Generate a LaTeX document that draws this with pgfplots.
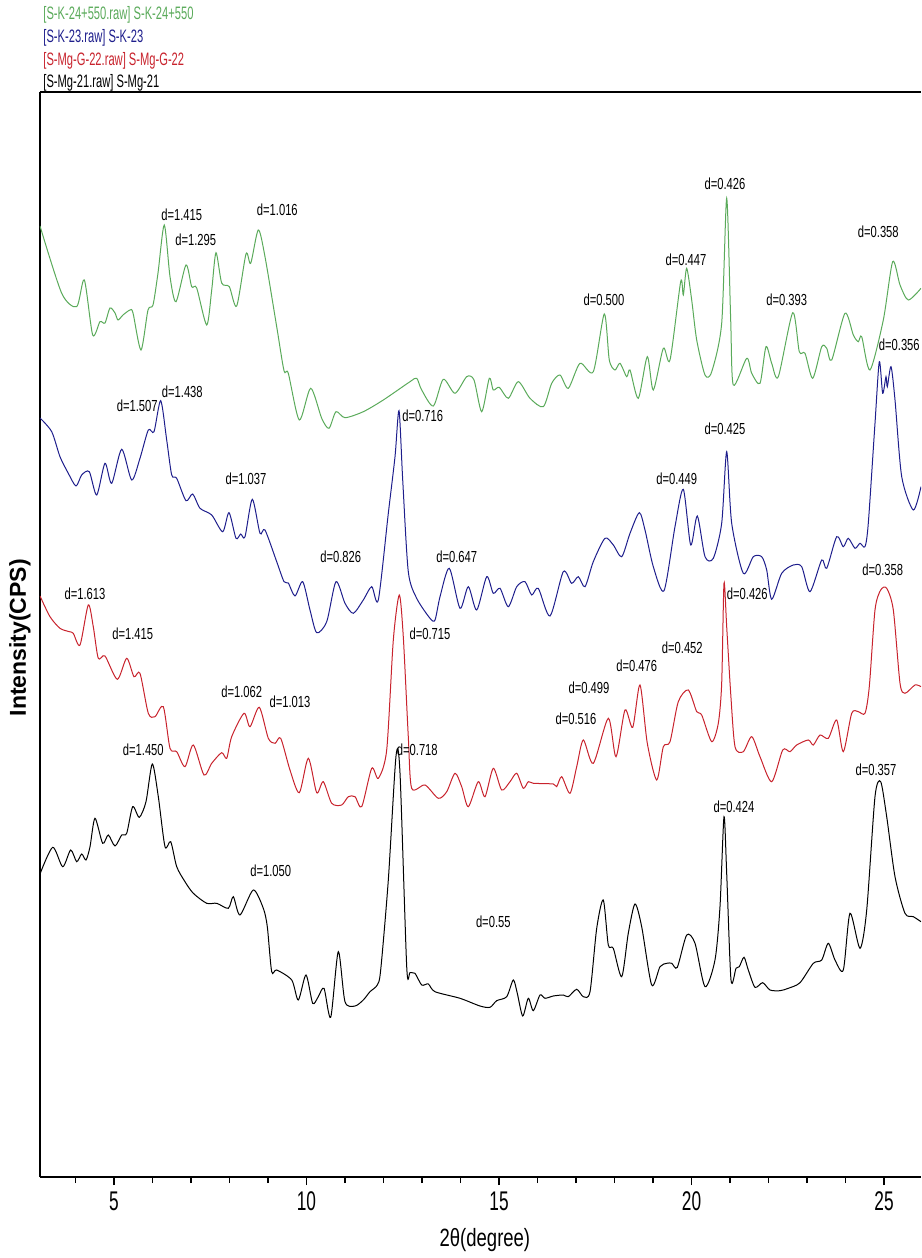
\documentclass[border=0pt]{standalone}
\usepackage{fontspec}
\setmainfont{Liberation Sans}
\newfontfamily\dfont{Liberation Sans}[FakeStretch=0.7]
\newfontfamily\lfont{Liberation Sans}[FakeStretch=0.62]
\newfontfamily\tfont{Liberation Sans}[FakeStretch=0.74]
\newfontfamily\kfont{Liberation Sans}[FakeStretch=0.64]
\usepackage{pgfplots}
\pgfplotsset{compat=1.18}
\definecolor{cgreen}{RGB}{90,170,90}
\definecolor{cblue}{RGB}{30,30,140}
\definecolor{cred}{RGB}{200,35,45}
\tikzset{dl/.style={font=\dfont\fontsize{8}{9}\selectfont, inner sep=0pt, anchor=center, text=black}}
\begin{document}
\begin{tikzpicture}
\begin{axis}[
  scale only axis, width=440.5pt, height=542.5pt,
  xmin=3.078, xmax=25.961, ymin=0, ymax=1085,
  axis x line=box, axis y line=left,
  axis line style={-, line width=0.75pt},
  xtick pos=bottom,
  xtick={5,10,15,20,25}, xticklabels={5,10,15,20,25},
  minor xtick={4,6,7,8,9,11,12,13,14,16,17,18,19,21,22,23,24},
  ytick=\empty,
  tick align=outside, major tick length=4pt, minor tick length=3pt,
  every tick/.style={black, line width=0.7pt},
  xticklabel style={font=\kfont\fontsize{13.5}{15}\selectfont},
  xlabel={2θ(degree)},
  xlabel style={font=\tfont\fontsize{12.5}{14}\selectfont, at={(rel axis cs:0.505,0)}, anchor=center, yshift=-31.5pt},
  ylabel={Intensity(CPS)},
  ylabel style={font=\bfseries\fontsize{11.5}{13}\selectfont, at={(rel axis cs:0,0.497)}, anchor=center, yshift=10pt},
  every axis plot/.append style={line width=0.5pt, smooth, tension=0.45},
]
% S-K-24+550 (green)
\addplot[cgreen] coordinates {
(3.078,951) (3.642,883.7) (4.031,870.3) (4.229,897) (4.447,842) (4.636,855.3) (4.766,854) (4.896,869) (5.026,864) (5.104,857) (5.234,862) (5.416,867) (5.494,864) (5.701,827) (5.883,867) (6.013,872) (6.143,904) (6.306,952) (6.455,900.3) (6.610,875.3) (6.870,912) (7.018,890.3) (7.148,889) (7.408,852) (7.538,887) (7.649,924.3) (7.797,894) (7.995,890.3) (8.187,871) (8.429,923) (8.551,913.7) (8.748,947) (8.922,920.3) (9.226,850.3) (9.416,806.3) (9.527,803.7) (9.813,757) (10.109,788.7) (10.395,758.7) (10.584,748.7) (10.766,765.3) (11.0,759.3) (11.475,765.3) (11.995,777) (12.688,795.3) (12.862,798.7) (12.992,787) (13.294,771) (13.553,797.7) (13.857,783.7) (14.161,800.3) (14.351,797) (14.551,765.3) (14.748,798.7) (14.852,787) (15.008,789.7) (15.242,778.7) (15.501,795.3) (15.805,778.7) (16.151,770.3) (16.369,793.7) (16.584,802) (16.8,788.7) (17.104,813.7) (17.449,805.3) (17.735,863) (17.865,817) (18.013,807) (18.143,813.7) (18.317,800.3) (18.403,807) (18.618,778.7) (18.852,820.3) (19.008,787) (19.268,828.7) (19.442,817) (19.719,895.3) (19.787,882) (19.875,908.7) (20.005,877) (20.135,837) (20.351,802) (20.525,805.3) (20.784,853.7) (20.914,978.7) (21.018,857) (21.086,792) (21.434,818.7) (21.564,803.7) (21.779,793.7) (21.935,830.3) (22.083,813.7) (22.255,800.3) (22.629,864.3) (22.8,825.3) (22.948,823.7) (23.148,798.7) (23.382,830.3) (23.512,828.7) (23.642,817) (23.987,863.7) (24.203,842) (24.332,835.3) (24.421,840.3) (24.636,807) (24.982,857) (25.226,915.3) (25.416,892) (25.631,877) (25.961,888.7)
};
% S-K-23 (blue)
\addplot[cblue] coordinates {
(3.078,759) (3.382,745.3) (3.597,720.3) (3.813,703.7) (4.013,691) (4.161,702) (4.358,705.3) (4.551,682) (4.766,713.7) (4.940,693.7) (5.2,727.7) (5.460,697) (5.675,718.7) (5.891,747) (6.039,745.3) (6.213,776.3) (6.369,737) (6.499,702) (6.629,698.7) (6.870,676.3) (7.044,683) (7.234,668.7) (7.538,662) (7.823,645.3) (7.987,664.3) (8.169,638.7) (8.291,643) (8.403,640.3) (8.592,677.7) (8.792,643.7) (8.922,647) (9.226,615.3) (9.416,595.3) (9.527,594) (9.701,581) (9.901,595.3) (10.091,567) (10.265,544.3) (10.525,555.3) (10.766,595.3) (11.0,573.7) (11.216,563.7) (11.475,577) (11.694,590.3) (11.865,577) (12.125,663.7) (12.299,720.3) (12.403,766.3) (12.499,697) (12.644,605.3) (12.862,578.7) (13.208,558.7) (13.338,557) (13.468,580.3) (13.709,608.7) (13.987,568.7) (14.203,590.3) (14.421,567) (14.681,600.3) (14.852,583.7) (15.026,588.7) (15.242,570.3) (15.460,590.3) (15.675,595.3) (15.849,582) (16.021,588.7) (16.325,561) (16.670,605.3) (16.888,593.7) (17.060,600.3) (17.234,590.3) (17.449,615.3) (17.753,638.7) (17.969,632) (18.187,620.3) (18.403,643.7) (18.644,664.3) (18.792,647) (19.008,610.3) (19.286,586.3) (19.571,650.3) (19.787,687.7) (19.979,632) (20.151,661) (20.351,620.3) (20.566,618.7) (20.784,653.7) (20.914,725.3) (21.044,653.7) (21.345,603.7) (21.605,620.3) (21.823,620.3) (21.953,607) (22.083,577.7) (22.343,603.7) (22.644,612) (22.862,610.3) (23.078,585.3) (23.382,617) (23.512,608.7) (23.771,640.3) (23.943,630.3) (24.073,638.7) (24.247,628.7) (24.377,633.7) (24.506,630.3) (24.592,653.7) (24.766,753.7) (24.878,815.3) (24.966,783.7) (25.052,800.3) (25.086,790.3) (25.182,810.3) (25.286,777) (25.460,700.3) (25.761,667) (25.961,690.3)
};
% S-Mg-G-22 (red)
\addplot[cred] coordinates {
(3.078,581) (3.338,560.3) (3.597,548.7) (3.839,545.3) (3.943,543.7) (4.117,532) (4.332,572) (4.462,550.3) (4.592,518.7) (4.766,521) (5.086,497.7) (5.330,518.7) (5.519,500.3) (5.675,503.7) (5.891,463.7) (6.065,460.3) (6.281,470.3) (6.455,428.7) (6.629,425.3) (6.844,410.3) (7.060,432) (7.338,402) (7.538,413.7) (7.797,424.3) (7.927,418.7) (8.057,440.3) (8.377,463.7) (8.532,450.3) (8.774,469.7) (9.008,438.7) (9.182,433.7) (9.330,438.7) (9.571,407) (9.813,384.3) (10.047,418.7) (10.265,384.3) (10.436,395.3) (10.655,373.7) (10.914,372) (11.086,380.3) (11.260,380.3) (11.434,370.3) (11.694,408.7) (11.865,398.7) (12.083,427) (12.255,537) (12.410,582) (12.514,540.3) (12.644,440.3) (12.732,388.7) (13.078,392) (13.423,378.7) (13.642,385.3) (13.857,403.7) (14.031,390.3) (14.203,370.3) (14.462,395.3) (14.636,380.3) (14.852,408.7) (15.070,387) (15.286,395.3) (15.460,403.7) (15.631,388.7) (15.761,395.3) (15.891,393.7) (16.410,393) (16.499,390.3) (16.629,400.3) (16.844,383.7) (17.018,410.3) (17.190,437) (17.449,413.7) (17.839,458.7) (18.039,420.3) (18.273,467) (18.473,449.7) (18.662,492) (18.852,433.7) (19.096,397) (19.268,430.3) (19.442,435.3) (19.657,475.3) (19.917,487) (20.135,465.3) (20.265,462) (20.525,435.3) (20.696,453.7) (20.784,493.7) (20.844,593.7) (20.914,550.3) (21.018,483.7) (21.130,430.3) (21.345,425.3) (21.564,440.3) (21.779,420.3) (22.083,395.3) (22.369,427) (22.558,425.3) (22.732,432) (23.034,437) (23.164,432) (23.338,442) (23.553,438.7) (23.771,457) (23.943,425.3) (24.161,463.7) (24.332,465.3) (24.506,463.7) (24.618,490.3) (24.766,567) (24.914,587) (25.070,588.7) (25.242,567) (25.416,493.7) (25.545,483.7) (25.805,492) (25.961,490.3)
};
% S-Mg-21 (black)
\addplot[black] coordinates {
(3.078,303) (3.408,329.7) (3.668,310.3) (3.875,327) (4.031,315.3) (4.161,323) (4.273,317) (4.377,330.3) (4.506,358.7) (4.706,333.7) (4.852,342) (5.026,331) (5.2,342) (5.330,343.7) (5.486,370.3) (5.657,359.7) (5.831,375.3) (5.995,413) (6.151,380.3) (6.325,330.3) (6.473,335.3) (6.629,310.3) (6.844,295.3) (7.060,283.7) (7.408,273.7) (7.668,273.7) (7.969,268.7) (8.099,280.3) (8.273,262) (8.618,287) (8.878,268.7) (8.982,250.3) (9.096,205.3) (9.226,207) (9.616,197) (9.787,177) (9.987,202) (10.161,173.7) (10.306,180.3) (10.455,188.7) (10.629,159.7) (10.826,225.3) (11.0,175.3) (11.260,171) (11.475,177) (11.649,185.3) (11.839,192) (11.927,207) (12.125,297) (12.325,421) (12.429,403.7) (12.603,210.3) (12.688,204.3) (12.818,203.7) (12.992,192) (13.164,193) (13.338,185.3) (13.987,178.7) (14.506,171) (14.766,169.7) (14.940,176.3) (15.2,180.3) (15.371,197) (15.475,183.7) (15.616,161) (15.761,178.7) (15.891,166.3) (16.065,182) (16.195,178.7) (16.410,181) (16.670,182) (16.8,180.3) (17.018,187.7) (17.190,180.3) (17.364,185.3) (17.538,248.7) (17.709,277) (17.839,232) (17.969,228.7) (18.187,200.3) (18.358,243.7) (18.532,273) (18.706,250.3) (18.966,192) (19.182,210.3) (19.356,213.7) (19.486,213.7) (19.631,209.7) (19.875,242) (20.091,233.7) (20.351,190.3) (20.610,217) (20.740,270.3) (20.844,360.3) (20.914,303.7) (21.026,197) (21.156,208.7) (21.242,210.3) (21.364,219.7) (21.475,207) (21.649,189.7) (21.849,194.3) (22.039,187) (22.299,186.3) (22.514,188.7) (22.818,194.3) (23.164,213.7) (23.382,217) (23.553,233.7) (23.727,217) (23.943,207) (24.117,263.7) (24.377,228.7) (24.551,267) (24.766,380.3) (24.914,395.3) (25.070,360.3) (25.286,300.3) (25.545,263.7) (25.761,260.3) (25.961,255.3)
};
% peak labels
\node[dl] at (axis cs:6.758,962) {d=1.415};
\node[dl] at (axis cs:7.123,937) {d=1.295};
\node[dl] at (axis cs:9.242,967.7) {d=1.016};
\node[dl] at (axis cs:17.727,877) {d=0.500};
\node[dl] at (axis cs:19.857,917.7) {d=0.447};
\node[dl] at (axis cs:20.870,993) {d=0.426};
\node[dl] at (axis cs:22.473,877) {d=0.393};
\node[dl] at (axis cs:24.852,945.3) {d=0.358};
\node[dl] at (axis cs:5.605,771) {d=1.507};
\node[dl] at (axis cs:6.774,785.3) {d=1.438};
\node[dl] at (axis cs:8.429,698) {d=1.037};
\node[dl] at (axis cs:10.888,620.3) {d=0.826};
\node[dl] at (axis cs:13.018,761) {d=0.716};
\node[dl] at (axis cs:13.901,620.3) {d=0.647};
\node[dl] at (axis cs:19.616,698) {d=0.449};
\node[dl] at (axis cs:20.870,748.7) {d=0.425};
\node[dl] at (axis cs:25.397,832) {d=0.356};
\node[dl] at (axis cs:4.247,583.7) {d=1.613};
\node[dl] at (axis cs:5.486,543) {d=1.415};
\node[dl] at (axis cs:8.317,485.3) {d=1.062};
\node[dl] at (axis cs:9.571,475.3) {d=1.013};
\node[dl] at (axis cs:13.208,543) {d=0.715};
\node[dl] at (axis cs:17.000,458) {d=0.516};
\node[dl] at (axis cs:17.338,489.7) {d=0.499};
\node[dl] at (axis cs:18.577,511) {d=0.476};
\node[dl] at (axis cs:19.761,529.7) {d=0.452};
\node[dl] at (axis cs:21.449,583.7) {d=0.426};
\node[dl] at (axis cs:24.966,607.7) {d=0.358};
\node[dl] at (axis cs:5.761,427.7) {d=1.450};
\node[dl] at (axis cs:9.071,306.3) {d=1.050};
\node[dl] at (axis cs:12.878,427) {d=0.718};
\node[dl] at (axis cs:14.852,255.3) {d=0.55};
\node[dl] at (axis cs:21.104,370.3) {d=0.424};
\node[dl] at (axis cs:24.791,407.7) {d=0.357};
\coordinate (bl) at (rel axis cs:0,0);
\coordinate (tl) at (rel axis cs:0,1);
\coordinate (tr) at (rel axis cs:1,1);
\end{axis}
\begin{scope}[every node/.style={anchor=base west, inner sep=0pt, font=\lfont\fontsize{9}{10}\selectfont}]
\node[text=cgreen] at ([shift={(1.5pt,36.2pt)}]tl) {[S-K-24+550.raw] S-K-24+550};
\node[text=cblue] at ([shift={(1.5pt,24.8pt)}]tl) {[S-K-23.raw] S-K-23};
\node[text=cred] at ([shift={(1.5pt,13.4pt)}]tl) {[S-Mg-G-22.raw] S-Mg-G-22};
\node[text=black] at ([shift={(1.5pt,2pt)}]tl) {[S-Mg-21.raw] S-Mg-21};
\end{scope}
\pgfresetboundingbox
\path ([shift={(-20pt,-40.5pt)}]bl) rectangle ([shift={(0pt,46pt)}]tr);
\end{tikzpicture}
\end{document}
